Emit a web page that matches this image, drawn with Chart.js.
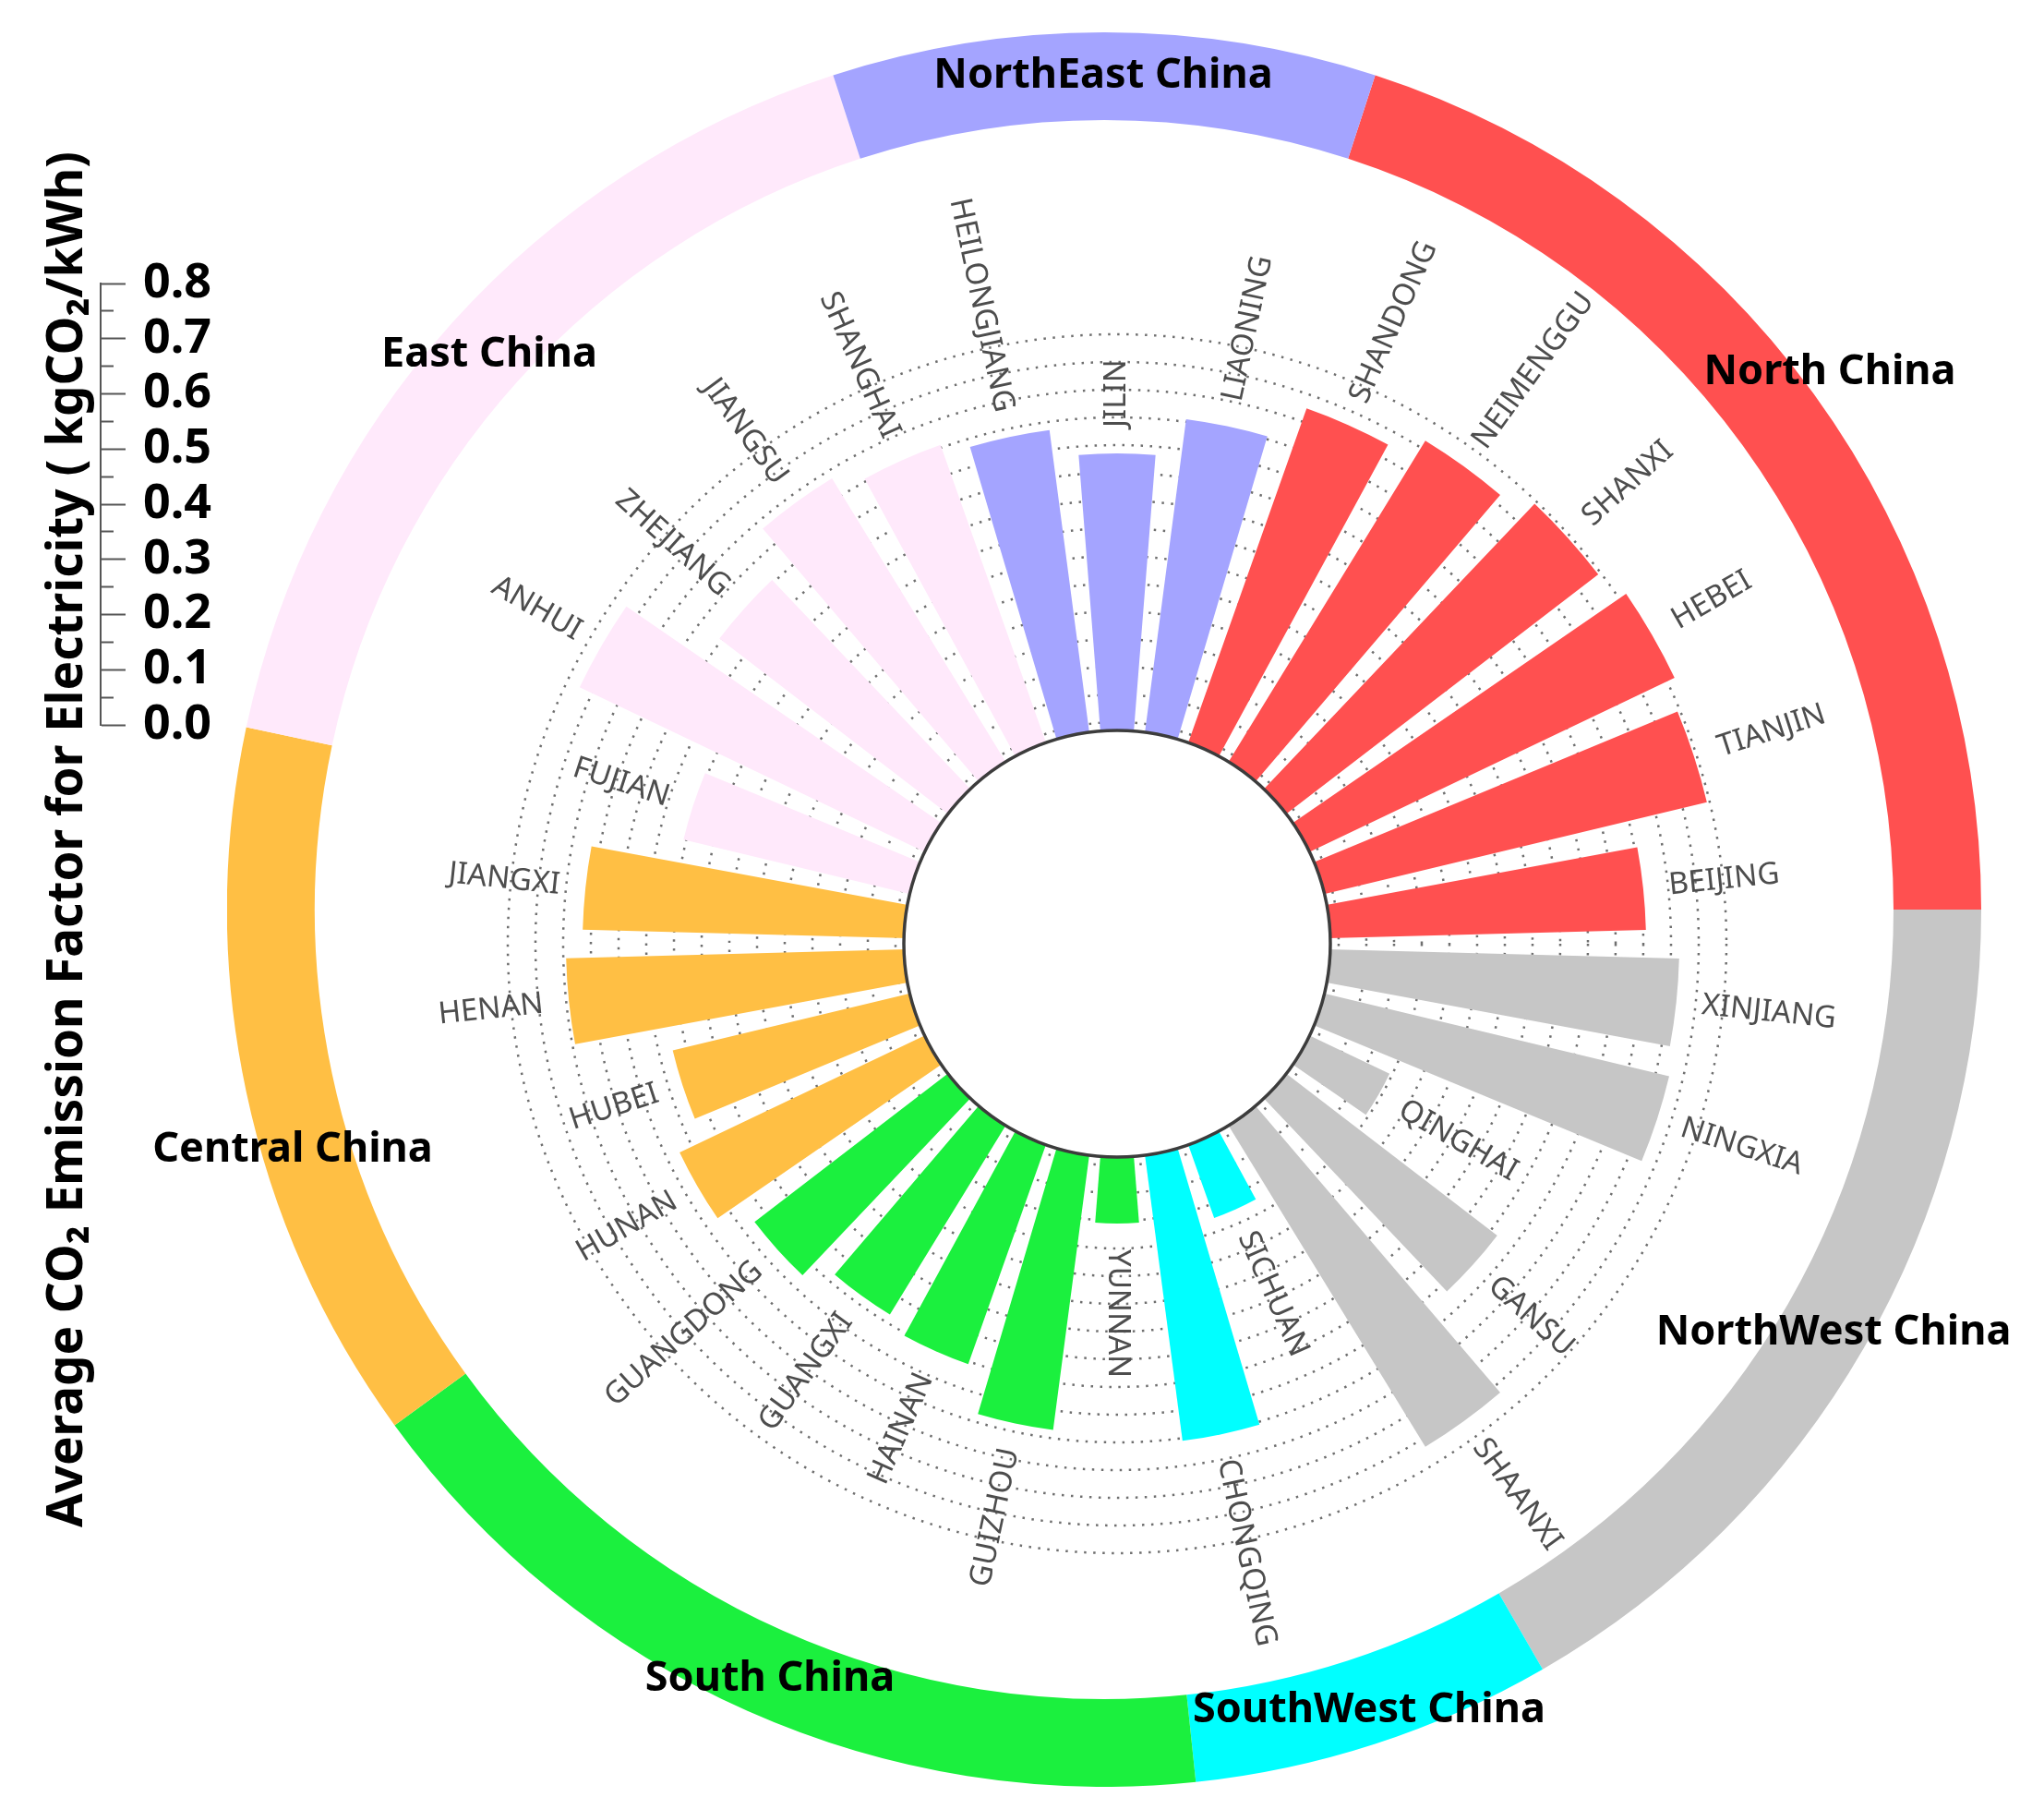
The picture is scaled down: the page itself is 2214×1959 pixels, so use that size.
<!DOCTYPE html>
<html>
<head>
<meta charset="utf-8">
<title>Average CO2 emission factor for electricity by province</title>
<script src="https://cdn.jsdelivr.net/npm/chart.js@4.4.1/dist/chart.umd.min.js"></script>
<style>
  html, body { margin: 0; padding: 0; background: #fff; overflow: hidden; }
  #stage { position: relative; width: 2214px; height: 1959px; }
  canvas { position: absolute; }
  #ring-chart { left: 246px; top: 35px; }
  #bar-chart { left: 310px; top: 122px; }
  #axis-chart { left: 0; top: 0; }
  .region { position: absolute; transform: translate(-50%, -50%); font: bold 45px 'Noto Sans', sans-serif;
            color: #000; white-space: nowrap; line-height: 1; }
</style>
</head>
<body>
<div id="stage">
  <canvas id="ring-chart" width="1900" height="1900"></canvas>
  <canvas id="bar-chart" width="1800" height="1800"></canvas>
  <canvas id="axis-chart" width="262" height="1818"></canvas>
  <div class="region" style="left:1195px;top:77px">NorthEast China</div>
  <div class="region" style="left:1982px;top:398px">North China</div>
  <div class="region" style="left:530px;top:379px">East China</div>
  <div class="region" style="left:317px;top:1240px">Central China</div>
  <div class="region" style="left:1986px;top:1438px">NorthWest China</div>
  <div class="region" style="left:834px;top:1813px">South China</div>
  <div class="region" style="left:1483px;top:1847px">SouthWest China</div>
</div>
<script>
// provinces in clockwise order, starting just below 3 o'clock
const provinces = ['XINJIANG', 'NINGXIA', 'QINGHAI', 'GANSU', 'SHAANXI', 'SICHUAN', 'CHONGQING',
  'YUNNAN', 'GUIZHOU', 'HAINAN', 'GUANGXI', 'GUANGDONG', 'HUNAN', 'HUBEI', 'HENAN', 'JIANGXI',
  'FUJIAN', 'ANHUI', 'ZHEJIANG', 'JIANGSU', 'SHANGHAI', 'HEILONGJIANG', 'JILIN', 'LIAONING',
  'SHANDONG', 'NEIMENGGU', 'SHANXI', 'HEBEI', 'TIANJIN', 'BEIJING'];
const emissionFactor = [0.63, 0.64, 0.16, 0.48, 0.68, 0.14, 0.52,
  0.12, 0.50, 0.42, 0.40, 0.44, 0.49, 0.44, 0.61, 0.58,
  0.42, 0.69, 0.52, 0.60, 0.57, 0.55, 0.50, 0.57,
  0.64, 0.68, 0.71, 0.73, 0.71, 0.57];
const provinceRegion = [1, 1, 1, 1, 1, 2, 2, 3, 3, 3, 3, 3, 4, 4, 4, 4, 5, 5, 5, 5, 5, 6, 6, 6, 0, 0, 0, 0, 0, 0];

// grid regions, clockwise from the North / NorthEast boundary
const regions = ['North China', 'NorthWest China', 'SouthWest China', 'South China',
  'Central China', 'East China', 'NorthEast China'];
const regionColors = ['#FF5050', '#C6C6C6', '#00FFFF', '#1BF03E', '#FFBF44', '#FFE9FB', '#A4A4FF'];
const regionCounts = regions.map((_, i) => provinceRegion.filter(r => r === i).length);

const axisTitle = 'Average CO\u2082 Emission Factor for Electricity ( kgCO\u2082/kWh)';

Chart.defaults.font.family = "'Noto Sans', sans-serif";

// each province gets a bar slot followed by an empty gap slot
const slotLabels = [];
const slotValues = [];
const slotColors = [];
provinces.forEach((p, i) => {
  slotLabels.push(p, '');
  slotValues.push(emissionFactor[i], 0);
  slotColors.push(regionColors[provinceRegion[i]], 'rgba(0,0,0,0)');
});

const innerCircle = {
  id: 'innerCircle',
  afterDatasetsDraw(chart) {
    const scale = chart.scales.r;
    const ctx = chart.ctx;
    ctx.save();
    ctx.beginPath();
    ctx.arc(scale.xCenter, scale.yCenter, scale.getDistanceFromCenterForValue(0), 0, Math.PI * 2);
    ctx.fillStyle = '#fff';
    ctx.fill();
    ctx.lineWidth = 3.5;
    ctx.strokeStyle = '#3c3c3c';
    ctx.stroke();
    ctx.restore();
  }
};

const provinceLabels = {
  id: 'provinceLabels',
  afterDatasetsDraw(chart) {
    const ctx = chart.ctx;
    const arcs = chart.getDatasetMeta(0).data;
    ctx.save();
    ctx.font = "33px 'Noto Sans', sans-serif";
    ctx.fillStyle = '#4d4d4d';
    ctx.textBaseline = 'middle';
    arcs.forEach((arc, i) => {
      const name = chart.data.labels[i];
      if (!name) return;
      const { x, y, startAngle, endAngle, outerRadius } =
        arc.getProps(['x', 'y', 'startAngle', 'endAngle', 'outerRadius'], true);
      const a = (startAngle + endAngle) / 2;
      const dist = outerRadius + 28;
      ctx.save();
      ctx.translate(x, y);
      if (Math.cos(a) > -1e-6) {
        ctx.rotate(a);
        ctx.textAlign = 'left';
        ctx.fillText(name, dist, 0);
      } else {
        ctx.rotate(a + Math.PI);
        ctx.textAlign = 'right';
        ctx.fillText(name, -dist, 0);
      }
      ctx.restore();
    });
    ctx.restore();
  }
};

// outer ring of grid regions
new Chart(document.getElementById('ring-chart'), {
  type: 'doughnut',
  data: {
    labels: regions,
    datasets: [{ data: regionCounts, backgroundColor: regionColors, borderWidth: 0 }]
  },
  options: {
    responsive: false,
    animation: false,
    cutout: '90%',
    rotation: 18,
    plugins: { legend: { display: false }, tooltip: { enabled: false } }
  }
});

// circular bars
new Chart(document.getElementById('bar-chart'), {
  type: 'polarArea',
  data: {
    labels: slotLabels,
    datasets: [{
      data: slotValues,
      backgroundColor: slotColors,
      borderWidth: 0,
      angle: ctx => (ctx.dataIndex % 2 === 0 ? 9 : 3)
    }]
  },
  options: {
    responsive: false,
    animation: false,
    layout: { padding: 150 },
    plugins: { legend: { display: false }, tooltip: { enabled: false } },
    scales: {
      r: {
        min: -0.385,
        max: 0.865,
        startAngle: 91.5,
        ticks: { display: false, stepSize: 0.05 },
        grid: {
          circular: true,
          lineWidth: 2.5,
          color: c => (c.tick && c.tick.value > 0.001 && c.tick.value < 0.76) ? '#6f6f6f' : 'rgba(0,0,0,0)'
        },
        border: { dash: [2.5, 7.5] },
        angleLines: { display: false },
        pointLabels: { display: false }
      }
    }
  },
  plugins: [innerCircle, provinceLabels]
});

// value axis on the left; two blank x axes only hold the space above and below it
const isMajor = v => Math.round(v * 100) % 10 === 0;
const spacer = (pos, h) => ({
  type: 'category',
  position: pos,
  display: true,
  ticks: { display: false },
  grid: { display: false, drawTicks: false },
  border: { display: false },
  afterFit: s => { s.height = h; }
});
new Chart(document.getElementById('axis-chart'), {
  type: 'bar',
  data: { labels: [], datasets: [] },
  options: {
    responsive: false,
    animation: false,
    layout: { padding: 0 },
    plugins: {
      legend: { display: false },
      tooltip: { enabled: false },
      title: {
        display: true,
        position: 'left',
        text: axisTitle,
        color: '#000',
        font: { size: 53, weight: 'bold' },
        padding: { top: 42, bottom: 0 }
      }
    },
    scales: {
      x: spacer('bottom', 1033),
      xTop: Object.assign(spacer('top', 307), { axis: 'x' }),
      y: {
        position: 'right',
        min: 0,
        max: 0.8,
        afterFit: s => { s.width = 153; },
        ticks: {
          stepSize: 0.05,
          autoSkip: false,
          padding: 19,
          color: '#000',
          font: { size: 52, weight: 'bold' },
          callback: v => (isMajor(v) ? v.toFixed(1) : '')
        },
        grid: {
          drawOnChartArea: false,
          tickLength: 27,
          tickWidth: 2,
          tickColor: '#555',
          tickBorderDash: c => (isMajor(c.tick.value) ? [] : [13, 60])
        },
        border: { display: true, color: '#555', width: 2 }
      }
    }
  }
});
</script>
</body>
</html>
